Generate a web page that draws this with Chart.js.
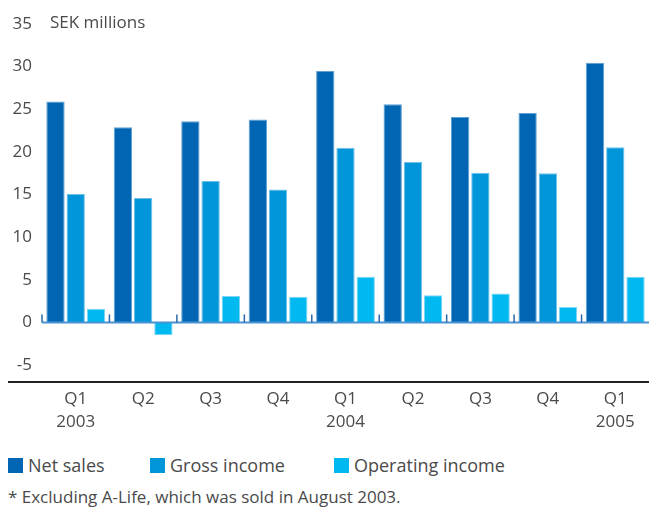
<!DOCTYPE html>
<html>
<head>
<meta charset="utf-8">
<script src="https://cdn.jsdelivr.net/npm/chart.js@4"></script>
<style>
  body { margin: 0; background: #fff; }
  #wrap { position: relative; width: 649px; height: 508px; overflow: hidden; font-family: "Open Sans", sans-serif; color: #4a4a4a; }
  #chartBox { position: absolute; left: 0; top: 0; width: 649px; height: 446px; }
  .leg { position: absolute; top: 453px; font-size: 18px; line-height: 24px; }
  .leg span { display: inline-block; width: 15px; height: 15px; vertical-align: -1px; margin-right: 5px; }
  #note { position: absolute; left: 8px; top: 485px; font-size: 17px; line-height: 24px; }
</style>
</head>
<body>
<div id="wrap">
  <div id="chartBox"><canvas id="myChart"></canvas></div>
  <div class="leg" style="left:8px"><span style="background:#0066b3"></span>Net sales</div>
  <div class="leg" style="left:150px"><span style="background:#0096d9"></span>Gross income</div>
  <div class="leg" style="left:334px"><span style="background:#00b9f1"></span>Operating income</div>
  <div id="note">* Excluding A-Life, which was sold in August 2003.</div>
</div>
<script>
// Quarters on the x axis
var quarters = [['Q1', '2003'], 'Q2', 'Q3', 'Q4', ['Q1', '2004'], 'Q2', 'Q3', 'Q4', ['Q1', '2005']];

// SEK millions
var netSales = [25.9, 22.9, 23.6, 23.8, 29.5, 25.6, 24.1, 24.55, 30.45];
var grossIncome = [15.05, 14.6, 16.6, 15.6, 20.5, 18.8, 17.55, 17.5, 20.55];
var operatingIncome = [1.6, -1.5, 3.1, 3.0, 5.35, 3.2, 3.4, 1.8, 5.35];

var yTicks = [-5, 0, 5, 10, 15, 20, 25, 30, 35];

// Draws the blue zero line with small ticks, the black base line and the unit text
var decorations = {
  id: 'decorations',
  afterDatasetsDraw: function (chart) {
    var ctx = chart.ctx;
    var area = chart.chartArea;
    var x = chart.scales.x;
    var y = chart.scales.y;
    var zero = y.getPixelForValue(0);
    var step = (area.right - area.left) / quarters.length;

    ctx.save();
    ctx.strokeStyle = '#4a93d2';
    ctx.lineWidth = 2;
    ctx.beginPath();
    ctx.moveTo(area.left, zero);
    ctx.lineTo(area.right, zero);
    ctx.stroke();

    ctx.strokeStyle = '#2a68a8';
    ctx.lineWidth = 1.5;
    for (var i = 0; i < quarters.length; i++) {
      var px = x.getPixelForValue(i) - step / 2;
      ctx.beginPath();
      ctx.moveTo(px, zero);
      ctx.lineTo(px, zero - 8);
      ctx.stroke();
    }

    ctx.strokeStyle = '#222';
    ctx.lineWidth = 2;
    ctx.beginPath();
    ctx.moveTo(8, area.bottom);
    ctx.lineTo(area.right, area.bottom);
    ctx.stroke();

    ctx.fillStyle = '#4a4a4a';
    ctx.font = '17px "Open Sans"';
    ctx.textBaseline = 'middle';
    ctx.fillText('SEK millions', 50, y.getPixelForValue(35) - 1);
    ctx.restore();
  }
};

function displayChart() {
  var ctx = document.getElementById('myChart').getContext('2d');

  var myChart = new Chart(ctx, {
    type: 'bar',
    data: {
      labels: quarters,
      datasets: [{
        label: 'Net sales',
        data: netSales,
        backgroundColor: '#0066b3',
        borderColor: '#5f9fd3',
        borderWidth: 1
      }, {
        label: 'Gross income',
        data: grossIncome,
        backgroundColor: '#0096d9',
        borderColor: '#6fc0e8',
        borderWidth: 1
      }, {
        label: 'Operating income',
        data: operatingIncome,
        backgroundColor: '#00b9f1',
        borderColor: '#7ad6f6',
        borderWidth: 1
      }]
    },
    options: {
      responsive: true,
      maintainAspectRatio: false,
      animation: false,
      datasets: {
        bar: { categoryPercentage: 0.9, barPercentage: 0.905 }
      },
      layout: { padding: { top: 24, right: 0, left: 0, bottom: 6 } },
      plugins: {
        legend: { display: false },
        tooltip: { enabled: false }
      },
      scales: {
        x: {
          grid: { display: false, drawTicks: false },
          border: { display: false },
          ticks: {
            color: '#4a4a4a',
            padding: 6,
            maxRotation: 0,
            autoSkip: false,
            font: { family: 'Open Sans', size: 17, lineHeight: 1.35 }
          }
        },
        y: {
          min: -7,
          max: 35,
          afterBuildTicks: function (scale) {
            scale.ticks = yTicks.map(function (v) { return { value: v }; });
          },
          afterFit: function (scale) { scale.width = 42; },
          grid: { display: false, drawTicks: false },
          border: { display: false },
          ticks: {
            color: '#4a4a4a',
            padding: 10,
            font: { family: 'Open Sans', size: 17 }
          }
        }
      }
    },
    plugins: [decorations]
  });
}

displayChart();
</script>
</body>
</html>
